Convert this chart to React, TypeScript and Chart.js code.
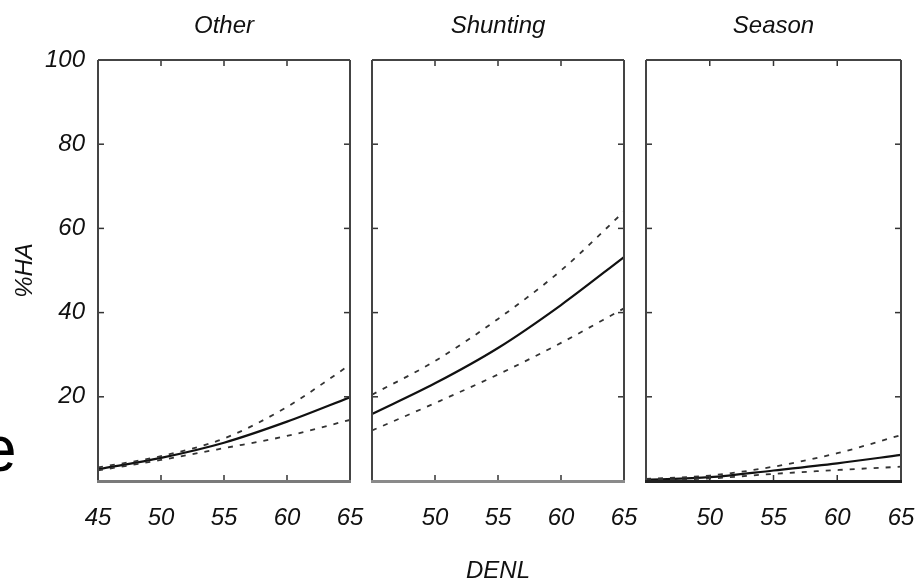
import React, { useEffect, useRef } from 'react';
import { Chart, registerables } from 'chart.js';

Chart.register(...registerables);

// ---------------- data ----------------
const xValues = [45, 50, 55, 60, 65];

const panelTitles = ['Other', 'Shunting', 'Season'];

const otherMid = [2.8, 5.5, 9.1, 14.1, 19.9];
const otherUpper = [3.2, 5.9, 10.1, 17.6, 27.6];
const otherLower = [2.5, 5.0, 7.8, 10.7, 14.5];

const shuntingMid = [15.9, 23.2, 31.6, 41.8, 53.2];
const shuntingUpper = [20.5, 28.5, 38.5, 50.0, 64.0];
const shuntingLower = [12.0, 18.5, 25.3, 32.8, 41.0];

const seasonMid = [0.3, 0.9, 2.5, 4.2, 6.2];
const seasonUpper = [0.5, 1.3, 3.4, 6.6, 10.9];
const seasonLower = [0.2, 0.6, 1.7, 2.6, 3.4];

const xTickLabelsFirst = ['45', '50', '55', '60', '65'];
const xTickLabelsRest = ['', '50', '55', '60', '65'];
const yTickLabels = ['', '20', '40', '60', '80', '100'];
const yFrameTicks = [20, 40, 60, 80];
const xFrameTicks = [50, 55, 60];

const yAxisTitle = '%HA';
const xAxisTitle = 'DENL';

// ---------------- styling ----------------
const FONT = '"Liberation Sans", Arial, Helvetica, sans-serif';
const W = 919;
const H = 583;

type Panel = {
  title: string;
  mid: number[];
  upper: number[];
  lower: number[];
  padLeft: number;
  padRight: number;
  first: boolean;
  showXTitle: boolean;
  bottomColor: string;
};

const panels: Panel[] = [
  { title: panelTitles[0], mid: otherMid, upper: otherUpper, lower: otherLower, padLeft: 0, padRight: W - 350, first: true, showXTitle: false, bottomColor: '#7a7a7a' },
  { title: panelTitles[1], mid: shuntingMid, upper: shuntingUpper, lower: shuntingLower, padLeft: 372, padRight: W - 624, first: false, showXTitle: true, bottomColor: '#8a8a8a' },
  { title: panelTitles[2], mid: seasonMid, upper: seasonUpper, lower: seasonLower, padLeft: 646, padRight: W - 901, first: false, showXTitle: false, bottomColor: '#222222' },
];

const framePlugin = {
  id: 'frameTicks',
  afterDatasetsDraw(chart: any, _args: any, opts: any) {
    const { ctx, chartArea: a, scales } = chart;
    const seg = (x1: number, y1: number, x2: number, y2: number) => {
      ctx.beginPath();
      ctx.moveTo(x1, y1);
      ctx.lineTo(x2, y2);
      ctx.stroke();
    };
    ctx.save();
    ctx.strokeStyle = '#333';
    ctx.lineWidth = 1.5;
    for (const v of yFrameTicks) {
      const y = scales.y.getPixelForValue(v);
      seg(a.left, y, a.left + 6, y);
      seg(a.right - 6, y, a.right, y);
    }
    for (const v of xFrameTicks) {
      const x = scales.x.getPixelForValue(v);
      seg(x, a.top, x, a.top + 6);
      seg(x, a.bottom - 6, x, a.bottom);
    }
    ctx.lineWidth = 2;
    ctx.strokeStyle = '#444';
    seg(a.left, a.top, a.right, a.top);
    seg(a.left, a.top, a.left, a.bottom);
    seg(a.right, a.top, a.right, a.bottom);
    ctx.lineWidth = 3;
    ctx.strokeStyle = (opts && opts.bottomColor) || '#444';
    seg(a.left - 1, a.bottom + 0.5, a.right + 1, a.bottom + 0.5);
    ctx.restore();
  },
};

function makeConfig(p: Panel): any {
  const pts = (arr: number[]) => xValues.map((x, i) => ({ x, y: arr[i] }));
  const dashed = {
    borderColor: '#333',
    borderWidth: 1.8,
    borderDash: [5, 7],
    pointRadius: 0,
    cubicInterpolationMode: 'monotone',
    fill: false,
  };
  const tickFont = { family: FONT, size: 24, style: 'italic' as const };
  const xLabels = p.first ? xTickLabelsFirst : xTickLabelsRest;
  return {
    type: 'line',
    data: {
      datasets: [
        { label: 'upper', data: pts(p.upper), ...dashed },
        { label: 'lower', data: pts(p.lower), ...dashed },
        {
          label: 'estimate',
          data: pts(p.mid),
          borderColor: '#111',
          borderWidth: 2.2,
          pointRadius: 0,
          cubicInterpolationMode: 'monotone',
          fill: false,
        },
      ],
    },
    options: {
      responsive: false,
      animation: false,
      devicePixelRatio: 1,
      layout: { padding: { left: p.padLeft, right: p.padRight, top: 0, bottom: 0 } },
      plugins: {
        legend: { display: false },
        tooltip: { enabled: false },
        title: {
          display: true,
          text: p.title,
          fullSize: false,
          color: '#111',
          font: { family: FONT, size: 24, style: 'italic', weight: 'normal' },
          padding: { top: 11.6, bottom: 19.6 },
        },
        frameTicks: { bottomColor: p.bottomColor },
      },
      scales: {
        x: {
          type: 'linear',
          min: 45,
          max: 65,
          grid: { display: false, drawTicks: false },
          border: { display: false },
          ticks: {
            stepSize: 5,
            autoSkip: false,
            maxRotation: 0,
            padding: 22.6,
            color: '#111',
            font: tickFont,
            callback: (_v: any, i: number) => xLabels[i],
          },
          title: {
            display: p.showXTitle,
            text: xAxisTitle,
            color: '#111',
            font: { family: FONT, size: 24, style: 'italic' },
            padding: { top: 0, bottom: -3 },
          },
          afterFit: (s: any) => {
            s.height = H - 481;
            s.paddingLeft = 0;
            s.paddingRight = 0;
          },
        },
        y: {
          display: p.first,
          min: 0,
          max: 100,
          grid: { display: false, drawTicks: false },
          border: { display: false },
          ticks: {
            stepSize: 20,
            padding: 13,
            color: '#111',
            font: tickFont,
            callback: (_v: any, i: number) => yTickLabels[i],
          },
          title: {
            display: true,
            text: yAxisTitle,
            color: '#111',
            font: { family: FONT, size: 24, style: 'italic' },
            padding: { top: 11, bottom: 0 },
          },
          afterFit: (s: any) => {
            s.width = p.first ? 98 : 0;
          },
        },
      },
    },
    plugins: [framePlugin],
  };
}

export default function App() {
  const r0 = useRef<HTMLCanvasElement>(null);
  const r1 = useRef<HTMLCanvasElement>(null);
  const r2 = useRef<HTMLCanvasElement>(null);

  useEffect(() => {
    const refs = [r0, r1, r2];
    const charts = refs.map((r, i) => new Chart(r.current as HTMLCanvasElement, makeConfig(panels[i])));
    return () => charts.forEach((c) => c.destroy());
  }, []);

  const canvasStyle: React.CSSProperties = { position: 'absolute', left: 0, top: 0, width: W, height: H };

  return (
    <div style={{ position: 'fixed', left: 0, top: 0, width: W, height: H, background: '#fff', overflow: 'hidden' }}>
      <span
        style={{
          position: 'absolute',
          left: -19,
          top: 416,
          fontFamily: FONT,
          fontSize: 64,
          lineHeight: '66px',
          color: '#000',
        }}
      >
        e
      </span>
      <canvas ref={r0} width={W} height={H} style={canvasStyle} />
      <canvas ref={r1} width={W} height={H} style={canvasStyle} />
      <canvas ref={r2} width={W} height={H} style={canvasStyle} />
    </div>
  );
}
